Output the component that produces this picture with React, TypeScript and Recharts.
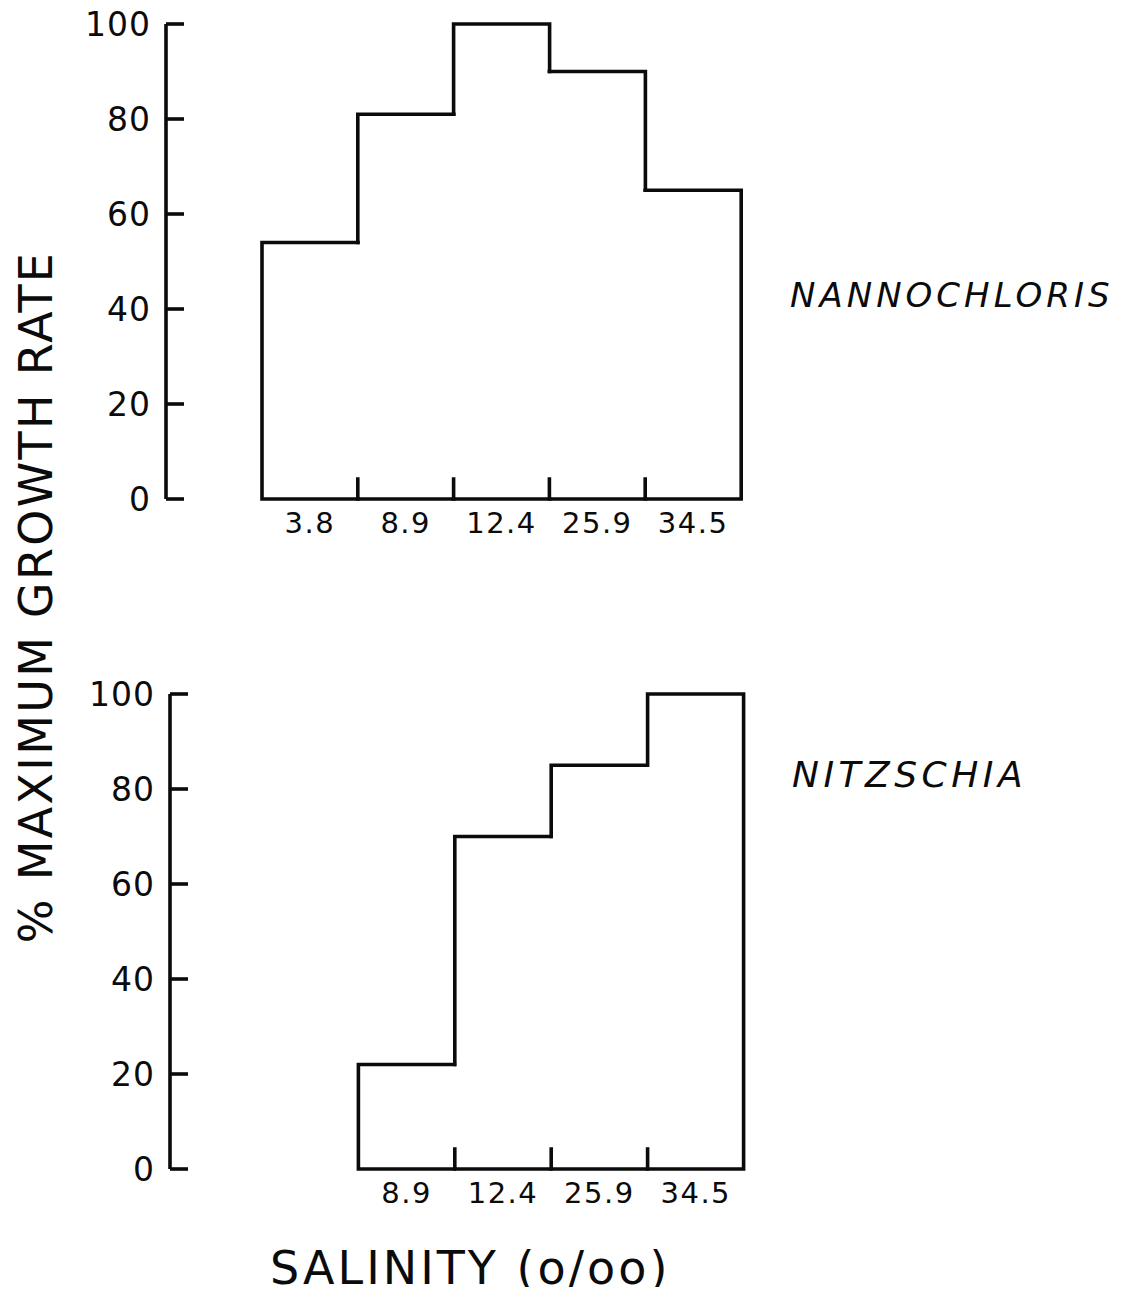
import { BarChart, Bar, XAxis, YAxis } from 'recharts';

// salinity classes (o/oo) and % of maximum growth rate
const nannoSalinity = ['3.8', '8.9', '12.4', '25.9', '34.5'];
const nannoRate = [54, 81, 100, 90, 65];

const nitzSalinity = ['', '8.9', '12.4', '25.9', '34.5'];
const nitzRate: (number | null)[] = [null, 22, 70, 85, 100];

const rateTicks = [0, 20, 40, 60, 80, 100];

const INK = '#0b0b0b';
const FONT = '"DejaVu Sans", sans-serif';

// outline-only histogram: top edge, bottom edge, and only the step risers
function stepShape(values: (number | null)[]) {
  return (props: any) => {
    const { x, y, width, height, payload } = props;
    const index = payload.i;
    const v = values[index];
    if (v == null || !height) return <g />;
    const base = y + height;
    const yOf = (n: number) => base - (height * n) / v;
    const prev = index > 0 ? values[index - 1] : null;
    const next = index < values.length - 1 ? values[index + 1] : null;
    let d = `M${x},${y}H${x + width}M${x},${base}H${x + width}`;
    const leftStop = prev == null ? base : yOf(prev);
    if (leftStop > y) d += `M${x},${y}V${leftStop}`;
    const rightStop = next == null ? base : yOf(next);
    if (rightStop > y) d += `M${x + width},${y}V${rightStop}`;
    if (prev != null) d += `M${x},${base}V${base - 20}`;
    return <path d={d} fill="none" stroke={INK} strokeWidth={3.6} strokeLinecap="square" />;
  };
}

const RateTick = (props: any) => {
  const { x, y, payload } = props;
  return (
    <g>
      <line x1={x + 15} x2={x + 33} y1={y} y2={y} stroke={INK} strokeWidth={3.6} />
      <text x={x} y={y} dy="0.36em" textAnchor="end" fontFamily={FONT} fontSize={33} letterSpacing={1} fill={INK}>
        {payload.value}
      </text>
    </g>
  );
};

interface PanelProps {
  cats: string[];
  values: (number | null)[];
  axisWidth: number;
  top: number;
  right: number;
  padLeft: number;
}

function Panel({ cats, values, axisWidth, top, right, padLeft }: PanelProps) {
  const data = cats.map((c, i) => ({ i, cat: c, rate: values[i] }));
  return (
    <BarChart
      width={760}
      height={top + 475 + 50}
      data={data}
      margin={{ top, right, bottom: 0, left: 0 }}
      barCategoryGap={0}
    >
      <XAxis
        dataKey="cat"
        axisLine={false}
        tickLine={false}
        tickSize={0}
        tickMargin={13}
        height={50}
        padding={{ left: padLeft, right: 0 }}
        tick={{ fill: INK, fontSize: 29, fontFamily: FONT, letterSpacing: 1.5 }}
        interval={0}
      />
      <YAxis
        domain={[0, 100]}
        ticks={rateTicks}
        width={axisWidth}
        axisLine={{ stroke: INK, strokeWidth: 3.6 }}
        tickLine={false}
        tickSize={0}
        tickMargin={15}
        tick={<RateTick />}
        interval={0}
      />
      <Bar dataKey="rate" isAnimationActive={false} shape={stepShape(values)} />
    </BarChart>
  );
}

export default function App() {
  return (
    <div style={{ position: 'relative', width: 1111, height: 1279, background: '#fff' }}>
      <div style={{ position: 'absolute', left: 0, top: -8 }}>
        <Panel cats={nannoSalinity} values={nannoRate} axisWidth={158} top={24} right={27} padLeft={96} />
      </div>
      <div style={{ position: 'absolute', left: 0, top: 660 }}>
        <Panel cats={nitzSalinity} values={nitzRate} axisWidth={162} top={26} right={24} padLeft={92} />
      </div>
      <svg
        width={1111}
        height={1279}
        style={{ position: 'absolute', left: 0, top: 0, overflow: 'visible', pointerEvents: 'none' }}
      >
        <text
          x={44}
          y={589}
          transform="rotate(-90, 44, 589)"
          textAnchor="middle"
          fontFamily={FONT}
          fontSize={46}
          letterSpacing={2.3}
          fill={INK}
        >
          % MAXIMUM GROWTH RATE
        </text>
        <text x={262} y={1276} fontFamily={FONT} fontSize={46} letterSpacing={3} fill={INK}>
          SALINITY (o/oo)
        </text>
        <text x={782} y={299} fontFamily={FONT} fontStyle="italic" fontSize={34} letterSpacing={4} fill={INK}>
          NANNOCHLORIS
        </text>
        <text x={784} y={779} fontFamily={FONT} fontStyle="italic" fontSize={36} letterSpacing={4.5} fill={INK}>
          NITZSCHIA
        </text>
      </svg>
    </div>
  );
}
